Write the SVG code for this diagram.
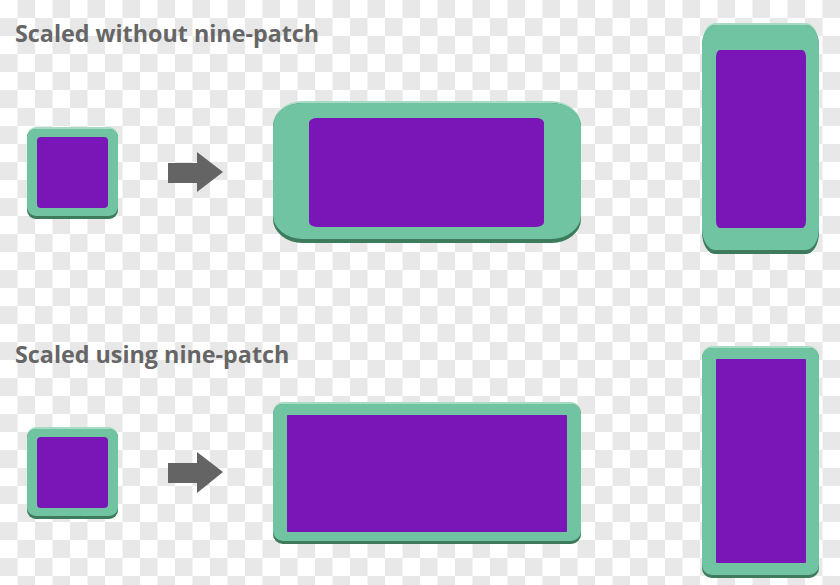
<svg xmlns="http://www.w3.org/2000/svg" width="840" height="585" viewBox="0 0 840 585">
  <style>
    .title { font-family: "Open Sans", "Liberation Sans", sans-serif; font-weight: 700; font-size: 23.3px; fill: #666666; }
    .hi { fill: #a6dcc4; }
    .dk { fill: #3e7a5c; }
    .gr { fill: #70c4a1; }
    .pu { fill: #7a15b8; }
    .arrow { fill: #646464; }
    .ck { stroke: #e8e8e8; stroke-width: 18; stroke-dasharray: 17.5 17.5; fill: none; }
  </style>
  <rect x="0" y="0" width="840" height="585" fill="#ffffff"/>
  <g id="checkerboard">
    <line class="ck" x1="17.5" y1="9" x2="840" y2="9"/>
    <line class="ck" x1="0" y1="27" x2="840" y2="27"/>
    <line class="ck" x1="17.5" y1="45" x2="840" y2="45"/>
    <line class="ck" x1="0" y1="63" x2="840" y2="63"/>
    <line class="ck" x1="17.5" y1="81" x2="840" y2="81"/>
    <line class="ck" x1="0" y1="99" x2="840" y2="99"/>
    <line class="ck" x1="17.5" y1="117" x2="840" y2="117"/>
    <line class="ck" x1="0" y1="135" x2="840" y2="135"/>
    <line class="ck" x1="17.5" y1="153" x2="840" y2="153"/>
    <line class="ck" x1="0" y1="171" x2="840" y2="171"/>
    <line class="ck" x1="17.5" y1="189" x2="840" y2="189"/>
    <line class="ck" x1="0" y1="207" x2="840" y2="207"/>
    <line class="ck" x1="17.5" y1="225" x2="840" y2="225"/>
    <line class="ck" x1="0" y1="243" x2="840" y2="243"/>
    <line class="ck" x1="17.5" y1="261" x2="840" y2="261"/>
    <line class="ck" x1="0" y1="279" x2="840" y2="279"/>
    <line class="ck" x1="17.5" y1="297" x2="840" y2="297"/>
    <line class="ck" x1="0" y1="315" x2="840" y2="315"/>
    <line class="ck" x1="17.5" y1="333" x2="840" y2="333"/>
    <line class="ck" x1="0" y1="351" x2="840" y2="351"/>
    <line class="ck" x1="17.5" y1="369" x2="840" y2="369"/>
    <line class="ck" x1="0" y1="387" x2="840" y2="387"/>
    <line class="ck" x1="17.5" y1="405" x2="840" y2="405"/>
    <line class="ck" x1="0" y1="423" x2="840" y2="423"/>
    <line class="ck" x1="17.5" y1="441" x2="840" y2="441"/>
    <line class="ck" x1="0" y1="459" x2="840" y2="459"/>
    <line class="ck" x1="17.5" y1="477" x2="840" y2="477"/>
    <line class="ck" x1="0" y1="495" x2="840" y2="495"/>
    <line class="ck" x1="17.5" y1="513" x2="840" y2="513"/>
    <line class="ck" x1="0" y1="531" x2="840" y2="531"/>
    <line class="ck" x1="17.5" y1="549" x2="840" y2="549"/>
    <line class="ck" x1="0" y1="567" x2="840" y2="567"/>
    <line class="ck" x1="17.5" y1="585" x2="840" y2="585"/>
  </g>

  <text class="title" x="15" y="42">Scaled without nine-patch</text>
  <text class="title" x="15" y="363">Scaled using nine-patch</text>

  <g id="top-small">
    <rect class="hi" x="27" y="127" width="91" height="92" rx="9"/>
    <rect class="dk" x="27" y="129" width="91" height="90" rx="9"/>
    <rect class="gr" x="27" y="129" width="91" height="87" rx="9"/>
    <rect class="pu" x="37" y="137" width="71" height="71" rx="4"/>
  </g>

  <g id="top-wide">
    <rect class="hi" x="273" y="101" width="308" height="142" rx="30" ry="24"/>
    <rect class="dk" x="273" y="103" width="308" height="140" rx="30" ry="24"/>
    <rect class="gr" x="273" y="103" width="308" height="136" rx="30" ry="24"/>
    <rect class="pu" x="309" y="118" width="235" height="109" rx="8" ry="5"/>
  </g>

  <g id="top-tall">
    <rect class="hi" x="702" y="23" width="117" height="231" rx="13" ry="22"/>
    <rect class="dk" x="702" y="25" width="117" height="229" rx="13" ry="22"/>
    <rect class="gr" x="702" y="25" width="117" height="225" rx="13" ry="22"/>
    <rect class="pu" x="716" y="50" width="90" height="178" rx="4" ry="7"/>
  </g>

  <g id="bottom-small">
    <rect class="hi" x="27" y="427" width="91" height="92" rx="9"/>
    <rect class="dk" x="27" y="429" width="91" height="90" rx="9"/>
    <rect class="gr" x="27" y="429" width="91" height="87" rx="9"/>
    <rect class="pu" x="37" y="437" width="71" height="71" rx="4"/>
  </g>

  <g id="bottom-wide">
    <rect class="hi" x="273" y="402" width="308" height="142" rx="10"/>
    <rect class="dk" x="273" y="404" width="308" height="140" rx="10"/>
    <rect class="gr" x="273" y="404" width="308" height="137" rx="10"/>
    <rect class="pu" x="287" y="415" width="280" height="117" rx="1"/>
  </g>

  <g id="bottom-tall">
    <rect class="hi" x="702" y="346" width="117" height="232" rx="10"/>
    <rect class="dk" x="702" y="348" width="117" height="230" rx="10"/>
    <rect class="gr" x="702" y="348" width="117" height="227" rx="10"/>
    <rect class="pu" x="716" y="359" width="90" height="204" rx="1"/>
  </g>

  <g id="connectors">
    <polygon class="arrow" points="168,163 197,163 197,152 223,172 197,192 197,183 168,183"/>
    <polygon class="arrow" points="168,463 197,463 197,452 223,472 197,493 197,483 168,483"/>
  </g>
</svg>
